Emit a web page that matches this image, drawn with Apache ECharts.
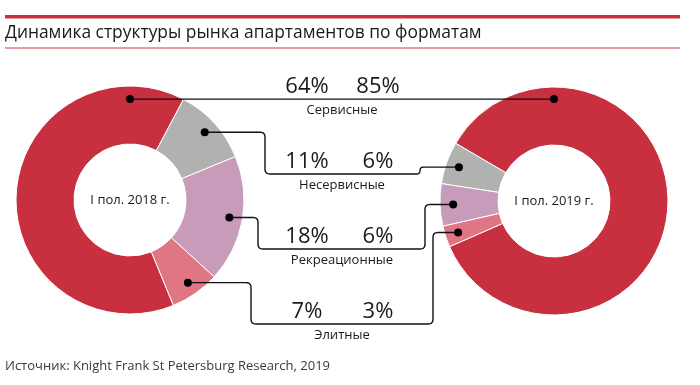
<!DOCTYPE html>
<html><head><meta charset="utf-8">
<script src="https://cdn.jsdelivr.net/npm/echarts@6/dist/echarts.min.js"></script>
<style>html,body{margin:0;padding:0;background:#fff}#c{width:700px;height:385px}</style>
</head><body><div id="c"></div>
<script>
const categories = ['Сервисные', 'Несервисные', 'Рекреационные', 'Элитные'];
const values2018 = [64, 11, 18, 7];
const values2019 = [85, 6, 6, 3];
const periods = ['I пол. 2018 г.', 'I пол. 2019 г.'];
const titleText = 'Динамика структуры рынка апартаментов по форматам';
const sourceText = 'Источник: Knight Frank St Petersburg Research, 2019';

const colors = ['#c8303f', '#b0b2af', '#c89bbb', '#e07584'];
const FONT = '"Open Sans", "Noto Sans", sans-serif';

const chart = echarts.init(document.getElementById('c'), null, {renderer: 'canvas'});

function pieSeries(values, center, startAngle, clockwise) {
  return {
    type: 'pie',
    center: center,
    radius: [56, 114],
    startAngle: startAngle,
    clockwise: clockwise,
    silent: true,
    label: {show: false},
    labelLine: {show: false},
    emphasis: {disabled: true},
    itemStyle: {borderColor: '#fff', borderWidth: 1},
    data: categories.map((c, i) => ({name: c, value: values[i], itemStyle: {color: colors[i]}}))
  };
}

chart.setOption({
  animation: false,
  series: [
    pieSeries(values2018, [130, 200], -67.6, true),
    pieSeries(values2019, [554, 201], -156.4, false)
  ]
});

// layout
function dotPos(si, i) {
  const l = chart.getModel().getSeriesByIndex(si).getData().getItemLayout(i);
  const a = i === 0 ? -Math.PI / 2 : (l.startAngle + l.endAngle) / 2;
  const r = l.r * 0.885;
  return [l.cx + r * Math.cos(a), l.cy + r * Math.sin(a)];
}

function roundedPath(pts, rad) {
  const out = [pts[0]];
  for (let k = 1; k < pts.length - 1; k++) {
    const p0 = pts[k - 1], p1 = pts[k], p2 = pts[k + 1];
    const d1 = Math.hypot(p1[0] - p0[0], p1[1] - p0[1]);
    const d2 = Math.hypot(p2[0] - p1[0], p2[1] - p1[1]);
    const r = Math.min(rad, d1 / 2, d2 / 2);
    if (r < 0.5) { out.push(p1); continue; }
    const a = [p1[0] + (p0[0] - p1[0]) / d1 * r, p1[1] + (p0[1] - p1[1]) / d1 * r];
    const b = [p1[0] + (p2[0] - p1[0]) / d2 * r, p1[1] + (p2[1] - p1[1]) / d2 * r];
    for (let t = 0; t <= 1.0001; t += 0.125) {
      const u = 1 - t;
      out.push([u * u * a[0] + 2 * u * t * p1[0] + t * t * b[0], u * u * a[1] + 2 * u * t * p1[1] + t * t * b[1]]);
    }
  }
  out.push(pts[pts.length - 1]);
  return out;
}

const elbowL = [null, 265, 258, 251];
const elbowR = [null, 420, 425, 433];
const rowY = [null, 174, 249, 324];
const valX = [307, 378];
const labelX = 342;

const g = [];
// header lines
g.push({type: 'rect', shape: {x: 5, y: 15, width: 675, height: 3.5}, style: {fill: '#c8303f'}});
g.push({type: 'rect', shape: {x: 5, y: 47.5, width: 675, height: 1}, style: {fill: '#cc3c4a'}});
function txt(x, y, text, size, align, color) {
  return {type: 'text', x: x, y: y, z: 120,
    style: {text: text, font: size + 'px ' + FONT, fill: color || '#1a1a1a',
      align: align, verticalAlign: 'middle', textAlign: align, textVerticalAlign: 'middle'}};
}
g.push(txt(5, 33, titleText, 17.4, 'left', '#1a1a1a'));
g.push(txt(5, 366, sourceText, 13, 'left', '#3a3a3a'));
g.push(txt(130, 200, periods[0], 13, 'center'));
g.push(txt(554, 201, periods[1], 13, 'center'));

categories.forEach((c, i) => {
  const L = dotPos(0, i), R = dotPos(1, i);
  let pts, y;
  if (i === 0) {
    y = L[1];
    pts = [L, [R[0], L[1]]];
  } else {
    y = rowY[i];
    pts = roundedPath([L, [elbowL[i], L[1]], [elbowL[i], y], [elbowR[i], y], [elbowR[i], R[1]], R], 5);
  }
  g.push({type: 'polyline', z: 100, shape: {points: pts}, style: {stroke: '#111', lineWidth: 1.4, fill: null}});
  g.push({type: 'circle', z: 101, shape: {cx: L[0], cy: L[1], r: 4}, style: {fill: '#000'}});
  g.push({type: 'circle', z: 101, shape: {cx: R[0], cy: i === 0 ? L[1] : R[1], r: 4}, style: {fill: '#000'}});
  g.push(txt(valX[0], y - 12, values2018[i] + '%', 22, 'center'));
  g.push(txt(valX[1], y - 12, values2019[i] + '%', 22, 'center'));
  g.push(txt(labelX, y + 11, c, 13, 'center'));
});

chart.setOption({graphic: {elements: g}});
</script>
</body></html>
